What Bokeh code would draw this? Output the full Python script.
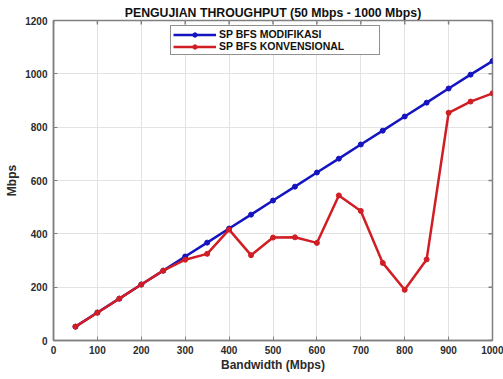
import math
from bokeh.plotting import figure
from bokeh.models import Range1d, FixedTicker, Legend, LegendItem, Title
from bokeh.embed import file_html
from bokeh.resources import INLINE

bandwidth = [50, 100, 150, 200, 250, 300, 350, 400, 450, 500,
             550, 600, 650, 700, 750, 800, 850, 900, 950, 1000]
sp_bfs_modifikasi = [52, 105, 157, 210, 262, 315, 367, 420, 472, 525,
                     577, 630, 682, 735, 787, 840, 892, 945, 997, 1048]
sp_bfs_konvensional = [52, 104, 157, 210, 262, 303, 325, 416, 320, 386,
                       387, 366, 544, 486, 291, 190, 304, 854, 896, 927]
x_ticks = list(range(0, 1001, 100))
y_ticks = list(range(0, 1201, 200))
x_lim = (0, 1000)
y_lim = (0, 1200)

FONT = "Liberation Sans"
AX = "#808080"
TXT = "#2b2b2b"

p = figure(width=503, height=379, output_backend="svg", toolbar_location=None,
           x_range=Range1d(*x_lim), y_range=Range1d(*y_lim),
           min_border_left=53, min_border_right=11, min_border_top=20, min_border_bottom=39,
           background_fill_color="white", border_fill_color="white")

p.title = Title(text="PENGUJIAN THROUGHPUT (50 Mbps - 1000 Mbps)", align="center",
                text_font=FONT, text_font_size="12.3px", text_font_style="bold",
                text_color="#111111", standoff=1, offset=0)
p.outline_line_color = AX
p.outline_line_width = 1.5

for ax in (p.xaxis[0], p.yaxis[0]):
    ax.axis_line_color = AX
    ax.axis_line_width = 1.5
    ax.major_tick_line_color = AX
    ax.major_tick_in = 4
    ax.major_tick_out = 0
    ax.minor_tick_line_color = None
    ax.major_label_text_font = FONT
    ax.major_label_text_font_size = "10px"
    ax.major_label_text_font_style = "bold"
    ax.major_label_text_color = TXT
    ax.axis_label_text_font = FONT
    ax.axis_label_text_font_size = "12px"
    ax.axis_label_text_font_style = "bold"
    ax.axis_label_text_color = TXT

p.xaxis[0].ticker = FixedTicker(ticks=x_ticks)
p.yaxis[0].ticker = FixedTicker(ticks=y_ticks)
p.xaxis[0].axis_label = "Bandwidth (Mbps)"
p.yaxis[0].axis_label = "Mbps"
p.xaxis[0].major_label_standoff = 5
p.xaxis[0].axis_label_standoff = 1
p.yaxis[0].major_label_standoff = 6
p.yaxis[0].axis_label_standoff = 3

# ticks on the top and right edges of the box (clipped half-dashes)
p.scatter(x_ticks, [y_lim[1]] * len(x_ticks), marker="dash", angle=math.pi / 2,
          size=8, line_color=AX, line_width=1.5)
p.scatter([x_lim[1]] * len(y_ticks), y_ticks, marker="dash", angle=0,
          size=8, line_color=AX, line_width=1.5)

p.xgrid.ticker = FixedTicker(ticks=x_ticks)
p.ygrid.ticker = FixedTicker(ticks=y_ticks)
p.grid.grid_line_color = "#e3e3e3"
p.grid.grid_line_width = 1

BLUE = "#1414c0"
RED = "#d01e24"
l1 = p.line(bandwidth, sp_bfs_modifikasi, line_color=BLUE, line_width=2.5)
m1 = p.scatter(bandwidth, sp_bfs_modifikasi, size=5, fill_color=BLUE, line_color=BLUE)
l2 = p.line(bandwidth, sp_bfs_konvensional, line_color=RED, line_width=2.5)
m2 = p.scatter(bandwidth, sp_bfs_konvensional, size=5, fill_color=RED, line_color=RED)

legend = Legend(items=[LegendItem(label="SP BFS MODIFIKASI", renderers=[l1, m1]),
                       LegendItem(label="SP BFS KONVENSIONAL", renderers=[l2, m2])],
                location=(117, 285), orientation="vertical",
                label_text_font=FONT, label_text_font_size="10.5px", label_text_font_style="bold",
                label_text_color="#111111", label_standoff=3, label_height=11, label_width=158,
                glyph_width=43, glyph_height=11, spacing=0, padding=2, margin=0,
                border_line_color="#222222", border_line_width=1,
                background_fill_color="white", background_fill_alpha=1)
p.add_layout(legend, "center")

open("out.html", "w").write(file_html(p, INLINE))
